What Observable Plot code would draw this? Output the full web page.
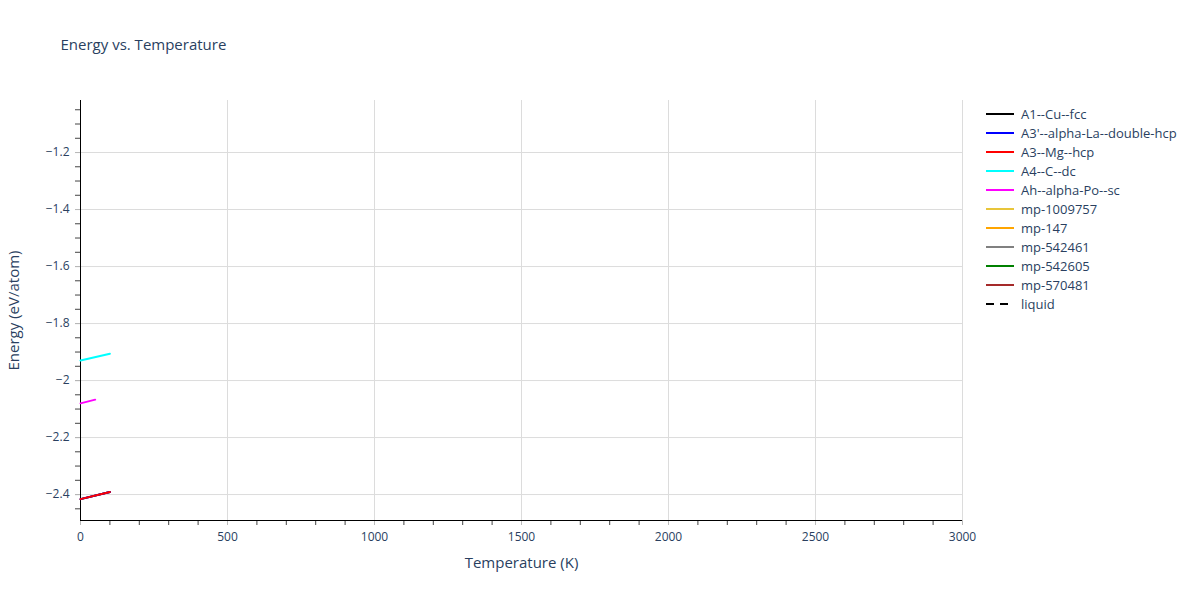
<!DOCTYPE html>
<html>
<head>
<meta charset="utf-8">
<script src="https://cdn.jsdelivr.net/npm/d3@7"></script>
<script src="https://cdn.jsdelivr.net/npm/@observablehq/plot@0.6"></script>
<style>
  html, body { margin: 0; padding: 0; background: #fff; }
  #wrap { position: relative; width: 1200px; height: 600px; font-family: "Open Sans", "DejaVu Sans", sans-serif; }
  #legend { position: absolute; left: 985px; top: 104.5px; font-size: 13px; color: #2a3f5f; }
  .item { height: 19px; display: flex; align-items: center; }
  .item svg { margin-right: 6px; }
</style>
</head>
<body>
<div id="wrap"></div>
<script>
// ---- data ----
const seriesNames = ["A1--Cu--fcc", "A3'--alpha-La--double-hcp", "A3--Mg--hcp", "A4--C--dc", "Ah--alpha-Po--sc",
  "mp-1009757", "mp-147", "mp-542461", "mp-542605", "mp-570481", "liquid"];
const seriesColors = ["black", "blue", "red", "cyan", "magenta", "#e8c53a", "orange", "gray", "green", "brown", "black"];

// drawn series (temperature K, energy eV/atom)
const tempA1 = [0, 100];        const energyA1 = [-2.416, -2.391];
const tempA3p = [0, 100];       const energyA3p = [-2.416, -2.391];
const tempA3 = [0, 100];        const energyA3 = [-2.416, -2.391];
const tempA4 = [0, 100];        const energyA4 = [-1.930, -1.906];
const tempAh = [0, 50];         const energyAh = [-2.080, -2.067];

const xTicks = [0, 500, 1000, 1500, 2000, 2500, 3000];
const xMinorTicks = d3.range(0, 3001, 100);
const yTicks = [-1.2, -1.4, -1.6, -1.8, -2, -2.2, -2.4];
const yDomain = [-2.491, -1.0175];
const yMinorTicks = d3.range(-2.45, -1.0, 0.05).map(v => +v.toFixed(2)).filter(v => v >= yDomain[0] && v <= yDomain[1]);

const rows = [];
[[seriesNames[0], tempA1, energyA1], [seriesNames[1], tempA3p, energyA3p], [seriesNames[2], tempA3, energyA3],
 [seriesNames[3], tempA4, energyA4], [seriesNames[4], tempAh, energyAh]].forEach(([name, t, e]) => {
  t.forEach((tv, i) => rows.push({series: name, T: tv, E: e[i]}));
});

const textColor = "#2a3f5f";
const gridColor = "#dcdcdc";
const fmt = d3.format("");

const chart = Plot.plot({
  width: 1200,
  height: 600,
  marginLeft: 80,
  marginRight: 238,
  marginTop: 100,
  marginBottom: 80,
  style: { fontFamily: "'Open Sans', 'DejaVu Sans', sans-serif", fontSize: "12px", color: textColor, background: "white" },
  x: { domain: [0, 3000], label: null },
  y: { domain: yDomain, label: null },
  color: { domain: seriesNames, range: seriesColors },
  marks: [
    Plot.gridX(xTicks, { stroke: gridColor, strokeOpacity: 1 }),
    Plot.gridY(yTicks, { stroke: gridColor, strokeOpacity: 1 }),
    Plot.axisX(xMinorTicks, { tickSize: 5, text: null, stroke: "#444" }),
    Plot.axisY(yMinorTicks, { tickSize: 5, text: null, stroke: "#444" }),
    Plot.axisX(xTicks, { tickSize: 5, tickPadding: 7, stroke: "#bbb", fill: textColor, fontSize: 12, label: null, tickFormat: fmt }),
    Plot.axisY(yTicks, { tickSize: 5, tickPadding: 6, stroke: "#bbb", fill: textColor, fontSize: 12, label: null, tickFormat: fmt }),
    Plot.ruleX([0], { stroke: "black", strokeWidth: 1 }),
    Plot.ruleY([yDomain[0]], { stroke: "black", strokeWidth: 1 }),
    Plot.line(rows, { x: "T", y: "E", z: "series", stroke: "series", strokeWidth: 2 }),
    Plot.text(["Temperature (K)"], { frameAnchor: "bottom", lineAnchor: "middle", dy: 43, fill: textColor, fontSize: 15 }),
    Plot.text(["Energy (eV/atom)"], { frameAnchor: "left", textAnchor: "middle", lineAnchor: "middle", rotate: -90, dx: -66, fill: textColor, fontSize: 15 }),
    Plot.text(["Energy vs. Temperature"], { frameAnchor: "top-left", textAnchor: "start", lineAnchor: "middle", dx: -20, dy: -55, fill: textColor, fontSize: 15 })
  ]
});

const wrap = document.getElementById("wrap");
wrap.appendChild(chart);

const legend = document.createElement("div");
legend.id = "legend";
seriesNames.forEach((name, i) => {
  const item = document.createElement("div");
  item.className = "item";
  const dash = name === "liquid" ? ' stroke-dasharray="8,6"' : "";
  item.innerHTML = `<svg width="30" height="6"><line x1="1" y1="3" x2="29" y2="3" stroke="${seriesColors[i]}" stroke-width="2"${dash}/></svg><span>${name}</span>`;
  legend.appendChild(item);
});
wrap.appendChild(legend);
</script>
</body>
</html>
